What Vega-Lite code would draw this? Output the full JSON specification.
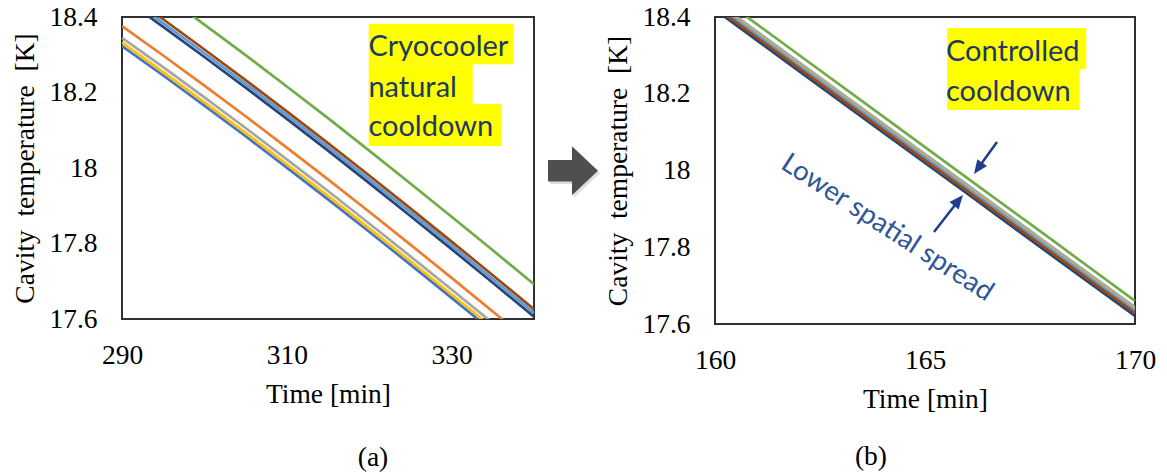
{
  "$schema": "https://vega.github.io/schema/vega-lite/v6.json",
  "background": "white",
  "padding": {"left": 10, "top": 2, "right": 5, "bottom": 5},
  "spacing": 181,
  "bounds": "flush",
  "config": {
    "view": {"stroke": "#303030", "strokeWidth": 2},
    "axis": {
      "labelFont": "Liberation Serif", "labelFontSize": 27.5, "labelColor": "#000000",
      "titleFont": "Liberation Serif", "titleFontSize": 27.5, "titleFontWeight": "normal", "titleColor": "#000000",
      "ticks": false, "domain": false, "grid": false, "labelFlush": false, "labelOverlap": false
    },
    "axisX": {"labelPadding": 22, "titlePadding": 12, "labelFont": "Liberation Serif"},
    "axisY": {"labelPadding": 25, "titlePadding": 9, "labelFont": "Liberation Serif"}
  },
  "datasets": {
    "a": [
      {"s": "blue", "t": 290, "T": 18.323}, {"s": "blue", "t": 295, "T": 18.245}, {"s": "blue", "t": 300, "T": 18.165}, {"s": "blue", "t": 305, "T": 18.084}, {"s": "blue", "t": 310, "T": 18.001}, {"s": "blue", "t": 315, "T": 17.917}, {"s": "blue", "t": 320, "T": 17.831}, {"s": "blue", "t": 325, "T": 17.744}, {"s": "blue", "t": 330, "T": 17.656}, {"s": "blue", "t": 335, "T": 17.567}, {"s": "blue", "t": 340, "T": 17.477},
      {"s": "orange", "t": 290, "T": 18.376}, {"s": "orange", "t": 295, "T": 18.298}, {"s": "orange", "t": 300, "T": 18.218}, {"s": "orange", "t": 305, "T": 18.137}, {"s": "orange", "t": 310, "T": 18.054}, {"s": "orange", "t": 315, "T": 17.970}, {"s": "orange", "t": 320, "T": 17.884}, {"s": "orange", "t": 325, "T": 17.797}, {"s": "orange", "t": 330, "T": 17.709}, {"s": "orange", "t": 335, "T": 17.620}, {"s": "orange", "t": 340, "T": 17.530},
      {"s": "gray", "t": 290, "T": 18.345}, {"s": "gray", "t": 295, "T": 18.267}, {"s": "gray", "t": 300, "T": 18.187}, {"s": "gray", "t": 305, "T": 18.106}, {"s": "gray", "t": 310, "T": 18.023}, {"s": "gray", "t": 315, "T": 17.939}, {"s": "gray", "t": 320, "T": 17.853}, {"s": "gray", "t": 325, "T": 17.766}, {"s": "gray", "t": 330, "T": 17.678}, {"s": "gray", "t": 335, "T": 17.589}, {"s": "gray", "t": 340, "T": 17.499},
      {"s": "yellow", "t": 290, "T": 18.332}, {"s": "yellow", "t": 295, "T": 18.254}, {"s": "yellow", "t": 300, "T": 18.174}, {"s": "yellow", "t": 305, "T": 18.093}, {"s": "yellow", "t": 310, "T": 18.010}, {"s": "yellow", "t": 315, "T": 17.926}, {"s": "yellow", "t": 320, "T": 17.840}, {"s": "yellow", "t": 325, "T": 17.753}, {"s": "yellow", "t": 330, "T": 17.665}, {"s": "yellow", "t": 335, "T": 17.576}, {"s": "yellow", "t": 340, "T": 17.486},
      {"s": "lightblue", "t": 290, "T": 18.462}, {"s": "lightblue", "t": 295, "T": 18.384}, {"s": "lightblue", "t": 300, "T": 18.304}, {"s": "lightblue", "t": 305, "T": 18.223}, {"s": "lightblue", "t": 310, "T": 18.140}, {"s": "lightblue", "t": 315, "T": 18.056}, {"s": "lightblue", "t": 320, "T": 17.970}, {"s": "lightblue", "t": 325, "T": 17.883}, {"s": "lightblue", "t": 330, "T": 17.795}, {"s": "lightblue", "t": 335, "T": 17.706}, {"s": "lightblue", "t": 340, "T": 17.616},
      {"s": "green", "t": 290, "T": 18.538}, {"s": "green", "t": 295, "T": 18.460}, {"s": "green", "t": 300, "T": 18.380}, {"s": "green", "t": 305, "T": 18.299}, {"s": "green", "t": 310, "T": 18.216}, {"s": "green", "t": 315, "T": 18.132}, {"s": "green", "t": 320, "T": 18.046}, {"s": "green", "t": 325, "T": 17.959}, {"s": "green", "t": 330, "T": 17.871}, {"s": "green", "t": 335, "T": 17.782}, {"s": "green", "t": 340, "T": 17.692},
      {"s": "navy", "t": 290, "T": 18.452}, {"s": "navy", "t": 295, "T": 18.374}, {"s": "navy", "t": 300, "T": 18.294}, {"s": "navy", "t": 305, "T": 18.213}, {"s": "navy", "t": 310, "T": 18.130}, {"s": "navy", "t": 315, "T": 18.046}, {"s": "navy", "t": 320, "T": 17.960}, {"s": "navy", "t": 325, "T": 17.873}, {"s": "navy", "t": 330, "T": 17.785}, {"s": "navy", "t": 335, "T": 17.696}, {"s": "navy", "t": 340, "T": 17.606},
      {"s": "brown", "t": 290, "T": 18.472}, {"s": "brown", "t": 295, "T": 18.394}, {"s": "brown", "t": 300, "T": 18.314}, {"s": "brown", "t": 305, "T": 18.233}, {"s": "brown", "t": 310, "T": 18.150}, {"s": "brown", "t": 315, "T": 18.066}, {"s": "brown", "t": 320, "T": 17.980}, {"s": "brown", "t": 325, "T": 17.893}, {"s": "brown", "t": 330, "T": 17.805}, {"s": "brown", "t": 335, "T": 17.716}, {"s": "brown", "t": 340, "T": 17.626}
    ],
    "b": [
      {"s": "blue", "t": 160, "T": 18.430}, {"s": "blue", "t": 162, "T": 18.270}, {"s": "blue", "t": 164, "T": 18.110}, {"s": "blue", "t": 166, "T": 17.951}, {"s": "blue", "t": 168, "T": 17.791}, {"s": "blue", "t": 170, "T": 17.632},
      {"s": "orange", "t": 160, "T": 18.438}, {"s": "orange", "t": 162, "T": 18.278}, {"s": "orange", "t": 164, "T": 18.118}, {"s": "orange", "t": 166, "T": 17.959}, {"s": "orange", "t": 168, "T": 17.799}, {"s": "orange", "t": 170, "T": 17.640},
      {"s": "gray", "t": 160, "T": 18.442}, {"s": "gray", "t": 162, "T": 18.282}, {"s": "gray", "t": 164, "T": 18.122}, {"s": "gray", "t": 166, "T": 17.963}, {"s": "gray", "t": 168, "T": 17.803}, {"s": "gray", "t": 170, "T": 17.644},
      {"s": "yellow", "t": 160, "T": 18.435}, {"s": "yellow", "t": 162, "T": 18.275}, {"s": "yellow", "t": 164, "T": 18.115}, {"s": "yellow", "t": 166, "T": 17.956}, {"s": "yellow", "t": 168, "T": 17.796}, {"s": "yellow", "t": 170, "T": 17.637},
      {"s": "lightblue", "t": 160, "T": 18.433}, {"s": "lightblue", "t": 162, "T": 18.273}, {"s": "lightblue", "t": 164, "T": 18.113}, {"s": "lightblue", "t": 166, "T": 17.954}, {"s": "lightblue", "t": 168, "T": 17.794}, {"s": "lightblue", "t": 170, "T": 17.635},
      {"s": "green", "t": 160, "T": 18.461}, {"s": "green", "t": 162, "T": 18.301}, {"s": "green", "t": 164, "T": 18.141}, {"s": "green", "t": 166, "T": 17.981}, {"s": "green", "t": 168, "T": 17.821}, {"s": "green", "t": 170, "T": 17.660},
      {"s": "navy", "t": 160, "T": 18.419}, {"s": "navy", "t": 162, "T": 18.259}, {"s": "navy", "t": 164, "T": 18.099}, {"s": "navy", "t": 166, "T": 17.940}, {"s": "navy", "t": 168, "T": 17.780}, {"s": "navy", "t": 170, "T": 17.621},
      {"s": "brown", "t": 160, "T": 18.426}, {"s": "brown", "t": 162, "T": 18.266}, {"s": "brown", "t": 164, "T": 18.106}, {"s": "brown", "t": 166, "T": 17.947}, {"s": "brown", "t": 168, "T": 17.787}, {"s": "brown", "t": 170, "T": 17.628}
    ],
    "boxA": [
      {"x1": 319.94, "x2": 337.54, "y1": 18.2747, "y2": 18.3823},
      {"x1": 319.94, "x2": 332.56, "y1": 18.1695, "y2": 18.2747},
      {"x1": 319.94, "x2": 335.99, "y1": 18.0583, "y2": 18.1695}
    ],
    "textA": [
      {"t": 319.9, "T": 18.2967, "label": "Cryocooler"},
      {"t": 319.9, "T": 18.189, "label": "natural"},
      {"t": 319.9, "T": 18.0848, "label": "cooldown"}
    ],
    "boxB": [
      {"x1": 165.53, "x2": 168.84, "y1": 18.2645, "y2": 18.3713},
      {"x1": 165.53, "x2": 168.67, "y1": 18.1577, "y2": 18.2645}
    ],
    "textB": [
      {"t": 165.5, "T": 18.2853, "label": "Controlled"},
      {"t": 165.5, "T": 18.1811, "label": "cooldown"}
    ]
  },
  "hconcat": [
    {
      "width": 412,
      "height": 302,
      "layer": [
        {
          "data": {"name": "boxA"},
          "mark": {"type": "rect", "color": "#FFFF00"},
          "encoding": {
            "x": {"field": "x1", "type": "quantitative", "title": "Time [min]", "scale": {"domain": [290, 340], "nice": false, "zero": false}, "axis": {"values": [290, 310, 330], "labelFont": "Liberation Serif"}},
            "x2": {"field": "x2"},
            "y": {"field": "y1", "type": "quantitative", "title": "Cavity\u00a0\u00a0temperature\u00a0\u00a0[K]", "scale": {"domain": [17.6, 18.4], "nice": false, "zero": false}, "axis": {"values": [17.6, 17.8, 18, 18.2, 18.4], "format": ".1~f", "labelFont": "Liberation Serif"}},
            "y2": {"field": "y2"}
          }
        },
        {
          "data": {"name": "a"},
          "mark": {"type": "line", "strokeWidth": 2.7, "clip": true},
          "encoding": {
            "x": {"field": "t", "type": "quantitative", "title": "Time [min]"},
            "y": {"field": "T", "type": "quantitative", "title": "Cavity\u00a0\u00a0temperature\u00a0\u00a0[K]"},
            "color": {"field": "s", "type": "nominal", "legend": null, "sort": null,
              "scale": {"domain": ["blue", "orange", "gray", "yellow", "lightblue", "green", "navy", "brown"],
                        "range": ["#4472C4", "#ED7D31", "#A5A5A5", "#FFC000", "#5B9BD5", "#70AD47", "#264478", "#9E480E"]}}
          }
        },
        {
          "data": {"name": "textA"},
          "mark": {"type": "text", "font": "Lato", "fontSize": 29, "color": "#203864", "align": "left", "baseline": "alphabetic"},
          "encoding": {
            "x": {"field": "t", "type": "quantitative", "title": "Time [min]"},
            "y": {"field": "T", "type": "quantitative", "title": "Cavity\u00a0\u00a0temperature\u00a0\u00a0[K]"},
            "text": {"field": "label"}
          }
        },
        {
          "data": {"values": [{"t": 344.98, "T": 17.986}]},
          "mark": {"type": "point", "shape": "M-1,-0.43L-0.04,-0.43L-0.04,-0.98L1,0L-0.04,0.98L-0.04,0.43L-1,0.43Z", "size": 2500, "filled": true, "color": "#C8C8C8", "opacity": 0.6, "strokeWidth": 0},
          "encoding": {
            "x": {"field": "t", "type": "quantitative", "title": "Time [min]"},
            "y": {"field": "T", "type": "quantitative", "title": "Cavity\u00a0\u00a0temperature\u00a0\u00a0[K]"}
          }
        },
        {
          "data": {"values": [{"t": 344.73, "T": 17.993}]},
          "mark": {"type": "point", "shape": "M-1,-0.43L-0.04,-0.43L-0.04,-0.98L1,0L-0.04,0.98L-0.04,0.43L-1,0.43Z", "size": 2500, "filled": true, "color": "#4F4F4F", "opacity": 1, "strokeWidth": 0},
          "encoding": {
            "x": {"field": "t", "type": "quantitative", "title": "Time [min]"},
            "y": {"field": "T", "type": "quantitative", "title": "Cavity\u00a0\u00a0temperature\u00a0\u00a0[K]"}
          }
        },
        {
          "data": {"values": [{"t": 320.46, "T": 17.2318, "label": "(a)"}]},
          "mark": {"type": "text", "font": "Liberation Serif", "fontSize": 27.5, "color": "#000000", "align": "center", "baseline": "middle"},
          "encoding": {
            "x": {"field": "t", "type": "quantitative", "title": "Time [min]"},
            "y": {"field": "T", "type": "quantitative", "title": "Cavity\u00a0\u00a0temperature\u00a0\u00a0[K]"},
            "text": {"field": "label"}
          }
        }
      ]
    },
    {
      "width": 420,
      "height": 307,
      "layer": [
        {
          "data": {"name": "boxB"},
          "mark": {"type": "rect", "color": "#FFFF00"},
          "encoding": {
            "x": {"field": "x1", "type": "quantitative", "title": "Time [min]", "scale": {"domain": [160, 170], "nice": false, "zero": false}, "axis": {"values": [160, 165, 170], "labelFont": "Liberation Serif"}},
            "x2": {"field": "x2"},
            "y": {"field": "y1", "type": "quantitative", "title": "Cavity\u00a0\u00a0temperature\u00a0\u00a0[K]", "scale": {"domain": [17.6, 18.4], "nice": false, "zero": false}, "axis": {"values": [17.6, 17.8, 18, 18.2, 18.4], "format": ".1~f", "labelFont": "Liberation Serif"}},
            "y2": {"field": "y2"}
          }
        },
        {
          "data": {"name": "b"},
          "mark": {"type": "line", "strokeWidth": 2.7, "clip": true},
          "encoding": {
            "x": {"field": "t", "type": "quantitative", "title": "Time [min]"},
            "y": {"field": "T", "type": "quantitative", "title": "Cavity\u00a0\u00a0temperature\u00a0\u00a0[K]"},
            "color": {"field": "s", "type": "nominal", "legend": null, "sort": null,
              "scale": {"domain": ["blue", "orange", "gray", "yellow", "lightblue", "green", "navy", "brown"],
                        "range": ["#4472C4", "#ED7D31", "#A5A5A5", "#FFC000", "#5B9BD5", "#70AD47", "#264478", "#9E480E"]}}
          }
        },
        {
          "data": {"name": "textB"},
          "mark": {"type": "text", "font": "Lato", "fontSize": 29, "color": "#203864", "align": "left", "baseline": "alphabetic"},
          "encoding": {
            "x": {"field": "t", "type": "quantitative", "title": "Time [min]"},
            "y": {"field": "T", "type": "quantitative", "title": "Cavity\u00a0\u00a0temperature\u00a0\u00a0[K]"},
            "text": {"field": "label"}
          }
        },
        {
          "data": {"values": [{"t": 164.1, "T": 17.85, "label": "Lower spatial spread"}]},
          "mark": {"type": "text", "font": "Lato", "fontSize": 27.5, "color": "#2F5597", "align": "center", "baseline": "middle", "angle": 33},
          "encoding": {
            "x": {"field": "t", "type": "quantitative", "title": "Time [min]"},
            "y": {"field": "T", "type": "quantitative", "title": "Cavity\u00a0\u00a0temperature\u00a0\u00a0[K]"},
            "text": {"field": "label"}
          }
        },
        {
          "data": {"values": [{"t1": 166.714, "T1": 18.0743, "t2": 166.264, "T2": 18.0057}, {"t1": 165.214, "T1": 17.8397, "t2": 165.798, "T2": 17.922}]},
          "mark": {"type": "rule", "color": "#1F3D8C", "strokeWidth": 2.5},
          "encoding": {
            "x": {"field": "t1", "type": "quantitative", "title": "Time [min]"},
            "y": {"field": "T1", "type": "quantitative", "title": "Cavity\u00a0\u00a0temperature\u00a0\u00a0[K]"},
            "x2": {"field": "t2"},
            "y2": {"field": "T2"}
          }
        },
        {
          "data": {"values": [{"t": 166.264, "T": 18.0057}]},
          "mark": {"type": "point", "shape": "M0,-1L0.85,1L-0.85,1Z", "size": 196, "filled": true, "color": "#1F3D8C", "opacity": 1, "strokeWidth": 0, "angle": 215.7},
          "encoding": {
            "x": {"field": "t", "type": "quantitative", "title": "Time [min]"},
            "y": {"field": "T", "type": "quantitative", "title": "Cavity\u00a0\u00a0temperature\u00a0\u00a0[K]"}
          }
        },
        {
          "data": {"values": [{"t": 165.798, "T": 17.922}]},
          "mark": {"type": "point", "shape": "M0,-1L0.85,1L-0.85,1Z", "size": 196, "filled": true, "color": "#1F3D8C", "opacity": 1, "strokeWidth": 0, "angle": 39.6},
          "encoding": {
            "x": {"field": "t", "type": "quantitative", "title": "Time [min]"},
            "y": {"field": "T", "type": "quantitative", "title": "Cavity\u00a0\u00a0temperature\u00a0\u00a0[K]"}
          }
        },
        {
          "data": {"values": [{"t": 163.714, "T": 17.2534, "label": "(b)"}]},
          "mark": {"type": "text", "font": "Liberation Serif", "fontSize": 27.5, "color": "#000000", "align": "center", "baseline": "middle"},
          "encoding": {
            "x": {"field": "t", "type": "quantitative", "title": "Time [min]"},
            "y": {"field": "T", "type": "quantitative", "title": "Cavity\u00a0\u00a0temperature\u00a0\u00a0[K]"},
            "text": {"field": "label"}
          }
        }
      ]
    }
  ]
}
